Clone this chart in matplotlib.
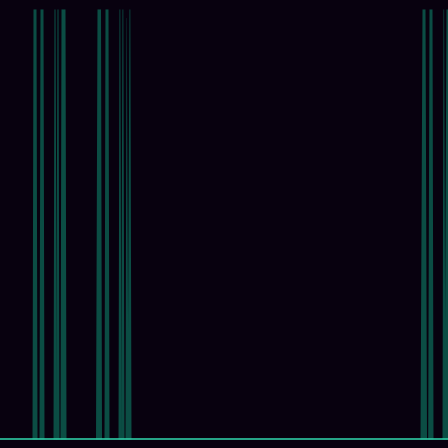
import matplotlib
matplotlib.use("Agg")
import matplotlib.pyplot as plt

# Events: each is a ramp-up / plateau / ramp-down on a time axis (0..448)
rise_start = [32, 39, 53, 55.5, 60, 95.5, 104, 118, 120.5, 125, 127, 420, 427.7, 442, 444]
peak_start = [33, 40, 54, 57, 61, 97, 105, 119, 122, 126, 129, 422, 429, 443, 446]
peak_end   = [36, 43, 55, 58, 65, 100.5, 108, 119.8, 122.8, 126.3, 129.8, 425, 432, 443.6, 448]
fall_end   = [37, 44, 56.5, 59, 66, 101.5, 109, 121, 124, 128, 131, 426.5, 433, 445, 449]
level      = [1, 1, 1, 1, 1, 1, 1, 1, 1, 0.98, 1, 1, 1, 1, 1]

bg = "#08010f"
bar_color = "#0b4d44"
axis_color = "#2ec4a0"

fig = plt.figure(figsize=(4.48, 4.48), dpi=100, facecolor=bg)
ax = fig.add_axes([0, 0.02, 1, 0.96])
ax.set_facecolor(bg)

for a, b, c, d, h in zip(rise_start, peak_start, peak_end, fall_end, level):
    ax.fill_between([a, b, c, d], [0, h, h, 0], 0, color=bar_color, linewidth=0)

ax.set_xlim(0, 448)
ax.set_ylim(0, 1)
for s in ["top", "right", "left"]:
    ax.spines[s].set_visible(False)
ax.spines["bottom"].set_color(axis_color)
ax.spines["bottom"].set_linewidth(1.2)
ax.set_xticks([])
ax.set_yticks([])

fig.savefig("out.png", dpi=100, facecolor=bg)
